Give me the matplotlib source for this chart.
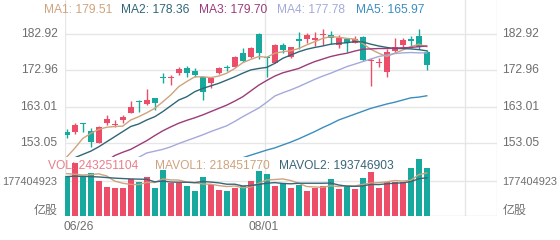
import numpy as np
import matplotlib
matplotlib.use("Agg")
from matplotlib import pyplot as plt

plt.rcParams["font.family"] = ["Liberation Sans", "Noto Sans CJK SC"]


# Daily candles, one per trading day from 06/26
opens = [156.07, 156.07, 158.37, 156.26, 153.04, 158.37, 157.82, 159.29, 161.31, 164.53,
         163.70, 165.26, 171.24, 170.96, 172.16, 173.53, 172.80, 171.05, 169.40, 172.34,
         173.81, 174.00, 177.85, 176.57, 183.00, 176.57, 175.10, 179.97, 176.57, 181.53,
         181.53, 181.35, 182.72, 182.72, 179.97, 181.53, 180.61, 182.27, 175.56, 175.10,
         172.62, 178.41, 179.97, 181.53, 182.45, 178.13]
highs = [156.72, 158.55, 158.40, 157.00, 157.60, 160.67, 159.29, 160.67, 164.53, 164.80,
         167.74, 165.45, 172.16, 171.70, 174.00, 174.18, 173.53, 171.42, 171.24, 174.00,
         174.45, 177.03, 179.05, 179.51, 183.20, 176.93, 180.24, 180.43, 179.51, 183.64,
         183.18, 183.64, 184.29, 183.92, 182.72, 181.62, 182.45, 182.54, 176.29, 176.29,
         178.77, 181.81, 181.81, 182.45, 184.50, 178.59]
lows = [154.24, 155.43, 156.07, 151.80, 152.86, 157.91, 157.27, 158.55, 161.13, 161.59,
        163.43, 162.05, 169.40, 168.94, 171.70, 171.24, 171.24, 164.80, 168.02, 171.97,
        172.90, 173.81, 175.37, 176.29, 176.00, 171.05, 174.90, 177.85, 176.29, 178.77,
        180.61, 179.69, 179.97, 180.24, 179.05, 178.13, 180.43, 175.65, 168.66, 174.00,
        171.24, 177.67, 179.51, 179.05, 179.00, 173.08]
closes = [155.15, 157.91, 158.10, 153.30, 157.27, 159.47, 158.10, 160.21, 162.97, 164.16,
          164.80, 164.07, 170.78, 171.24, 173.26, 172.34, 171.70, 167.10, 170.78, 173.53,
          173.53, 176.75, 175.65, 179.05, 177.85, 176.29, 179.97, 178.59, 179.32, 181.16,
          182.72, 181.81, 183.00, 181.81, 181.81, 180.43, 181.53, 175.83, 175.83, 175.37,
          178.13, 179.51, 181.35, 181.16, 179.50, 174.45]
volumes = [204e6, 270e6, 199e6, 219e6, 177e6, 148e6, 143e6, 143e6, 190e6, 173e6,
           199e6, 143e6, 236e6, 165e6, 165e6, 151e6, 128e6, 199e6, 160e6, 131e6,
           128e6, 143e6, 151e6, 179e6, 230e6, 213e6, 151e6, 165e6, 143e6, 158e6,
           128e6, 143e6, 151e6, 186e6, 135e6, 151e6, 138e6, 191e6, 221e6, 143e6,
           173e6, 173e6, 173e6, 242e6, 289e6, 243251104]

# Moving average lines (nan = below the panel)
ma1 = [149.1, 151.5, 154.2, 155.6, 156.7, 157.3, 157.5, 157.6, 159.3, 160.2,
       161.3, 162.5, 164.3, 166.2, 168.5, 169.9, 171.2, 171.2, 171.0, 171.4,
       172.2, 173.5, 175.1, 176.0, 176.8, 176.6, 177.7, 178.1, 178.4, 179.0,
       180.0, 180.9, 181.8, 182.3, 182.1, 181.8, 181.6, 180.4, 178.8, 177.7,
       176.8, 177.7, 178.6, 179.5, 180.2, 179.51]
ma2 = [148.0, 148.9, 149.8, 150.7, 151.9, 153.3, 154.7, 156.1, 157.5, 158.2,
       159.3, 160.2, 161.6, 163.2, 164.8, 165.7, 167.1, 168.0, 168.7, 169.4,
       170.3, 171.2, 172.2, 173.1, 173.5, 173.8, 174.9, 176.3, 177.2, 178.1,
       178.8, 179.3, 179.7, 180.2, 180.4, 180.6, 180.9, 180.8, 180.2, 179.7,
       179.3, 179.0, 179.0, 178.9, 178.7, 178.36]
ma3 = [np.nan, np.nan, np.nan, np.nan, 147.0, 148.0, 149.5, 150.4, 151.2, 152.4,
       153.6, 155.0, 156.3, 157.4, 158.4, 159.2, 159.9, 160.7, 161.6, 162.5,
       163.4, 164.5, 165.7, 167.3, 168.9, 170.2, 171.4, 172.3, 172.9, 173.5,
       174.5, 175.4, 176.1, 176.8, 177.3, 177.7, 178.3, 178.8, 178.9, 179.0,
       179.0, 179.1, 179.2, 179.3, 179.5, 179.70]
ma4 = [np.nan, np.nan, np.nan, np.nan, np.nan, np.nan, np.nan, 147.8, 148.4, 149.0,
       150.2, 150.7, 151.2, 151.9, 152.8, 153.6, 154.4, 155.2, 156.1, 156.9,
       157.7, 158.9, 160.2, 161.4, 162.6, 164.2, 165.9, 166.8, 167.6, 168.5,
       169.5, 170.5, 171.4, 172.2, 173.1, 174.0, 174.7, 175.4, 176.1, 176.8,
       177.2, 177.6, 177.8, 177.9, 177.8, 177.78]
ma5 = [np.nan, np.nan, np.nan, np.nan, np.nan, np.nan, np.nan, np.nan, np.nan, np.nan,
       np.nan, np.nan, np.nan, np.nan, np.nan, np.nan, np.nan, np.nan, np.nan, np.nan,
       147.5, 148.2, 148.9, 149.6, 150.3, 151.0, 151.6, 152.4, 153.2, 154.1,
       155.1, 156.1, 157.2, 158.2, 159.3, 160.1, 160.9, 161.7, 162.5, 163.1,
       163.7, 164.2, 164.8, 165.4, 165.6, 165.97]
mavol1 = [215e6, 212e6, 208e6, 210e6, 214e6, 203e6, 177e6, 166e6, 160e6, 159e6,
          170e6, 170e6, 188e6, 183e6, 182e6, 172e6, 169e6, 162e6, 161e6, 154e6,
          149e6, 152e6, 143e6, 146e6, 166e6, 183e6, 185e6, 188e6, 180e6, 166e6,
          149e6, 147e6, 145e6, 153e6, 149e6, 153e6, 152e6, 160e6, 167e6, 169e6,
          173e6, 180e6, 177e6, 181e6, 210e6, 218451770]
mavol2 = [200e6, 202e6, 201e6, 200e6, 198e6, 195e6, 192e6, 190e6, 188e6, 187e6,
          186e6, 173e6, 177e6, 172e6, 171e6, 171e6, 169e6, 175e6, 172e6, 168e6,
          161e6, 161e6, 152e6, 154e6, 160e6, 166e6, 169e6, 165e6, 163e6, 166e6,
          166e6, 166e6, 166e6, 167e6, 157e6, 151e6, 150e6, 152e6, 160e6, 159e6,
          163e6, 166e6, 168e6, 174e6, 189e6, 193746903]

ma_names = ["MA1", "MA2", "MA3", "MA4", "MA5"]
ma_last = [179.51, 178.36, 179.70, 177.78, 165.97]
vol_names = ["VOL", "MAVOL1", "MAVOL2"]
vol_last = [243251104, 218451770, 193746903]
price_ticks = [153.05, 163.01, 172.96, 182.92]
vol_tick = 177404923
vol_unit = "亿股"
date_idx = [0, 25]
date_labels = ["06/26", "08/01"]


# Styling
W, H = 560, 240
up_color = "#ec4d69"
down_color = "#17a99d"
ma_colors = ["#cfa37d", "#2f6677", "#9c3b7a", "#a3aada", "#3b8dbf"]
vol_colors = ["#ea7d8c", "#cfa37d", "#3a6478"]
grid_color = "#e6e6e6"
label_color = "#6e6e6e"
fs = 8.64
fs_small = 7.9


def box(x0, y0, x1, y1):
    return [x0 / W, 1 - y1 / H, (x1 - x0) / W, (y1 - y0) / H]


fig = plt.figure(figsize=(W / 100, H / 100), dpi=100)
ax = fig.add_axes(box(65, 0, 497, 157))
axv = fig.add_axes(box(65, 157, 497, 215.7))

idx = np.arange(len(closes))
xlim = (-0.22, 53.78)
split_x = [xlim[0], date_idx[1] - 0.22, 2 * date_idx[1] - 0.22, xlim[1]]

# Price panel
ax.set_xlim(*xlim)
ax.set_ylim(149.09, 192.38)
for t in price_ticks:
    ax.axhline(t, color=grid_color, lw=1, zorder=0)
for sx in split_x:
    ax.axvline(sx, color=grid_color, lw=1, zorder=0)

colors = [up_color if c >= o else down_color for o, c in zip(opens, closes)]
ax.vlines(idx, lows, highs, colors=colors, lw=1, zorder=2)
body_lo = np.minimum(opens, closes)
body_h = np.maximum(np.abs(np.array(closes) - np.array(opens)), 0.12)
ax.bar(idx, body_h, bottom=body_lo, width=0.72, color=colors, zorder=3)

for vals, col in zip([ma1, ma2, ma3, ma4, ma5], ma_colors):
    ax.plot(idx, vals, color=col, lw=1, zorder=4)

ax.set_xticks([])
ax.set_yticks([])
for s in ax.spines.values():
    s.set_visible(False)

# Volume panel
axv.set_xlim(*xlim)
axv.set_ylim(0, 300.1e6)
axv.axhline(vol_tick, color=grid_color, lw=1, zorder=0)
for sx in split_x:
    axv.axvline(sx, color=grid_color, lw=1, zorder=0)
axv.bar(idx, volumes, width=0.72, color=colors, zorder=2)
axv.plot(idx, mavol1, color=vol_colors[1], lw=1, zorder=3)
axv.plot(idx, mavol2, color=vol_colors[2], lw=1, zorder=3)
axv.set_xticks([])
axv.set_yticks([])
for s in axv.spines.values():
    s.set_visible(False)
axv.axhline(0, color="#dcdcdc", lw=1, zorder=1)


# Text
def px_text(x, y, s, color=label_color, ha="left", size=fs):
    fig.text(x / W, 1 - y / H, s, color=color, ha=ha, va="center", fontsize=size)


ma_x = [44, 121, 199, 277, 356]
for x, name, val, col in zip(ma_x, ma_names, ma_last, ma_colors):
    px_text(x, 10, f"{name}: {val:.2f}", col)

vol_x = [48, 155, 279]
for x, name, val, col in zip(vol_x, vol_names, vol_last, vol_colors):
    px_text(x, 166, f"{name}: {val}", col)

for t in price_ticks:
    y = ax.transData.transform((0, t))[1]
    px_text(57.5, H - y, f"{t:.2f}", ha="right")
    px_text(502.5, H - y, f"{t:.2f}")

y = axv.transData.transform((0, vol_tick))[1]
px_text(57.5, H - y + 1.5, str(vol_tick), ha="right", size=fs_small)
px_text(502.5, H - y + 1.5, str(vol_tick), size=fs_small)
px_text(57.5, 211, vol_unit, ha="right")
px_text(502.5, 211, vol_unit)

px_text(63, 227, date_labels[0])
px_text(264, 227, date_labels[1], ha="center")

fig.savefig("out.png", dpi=100, facecolor="white")
